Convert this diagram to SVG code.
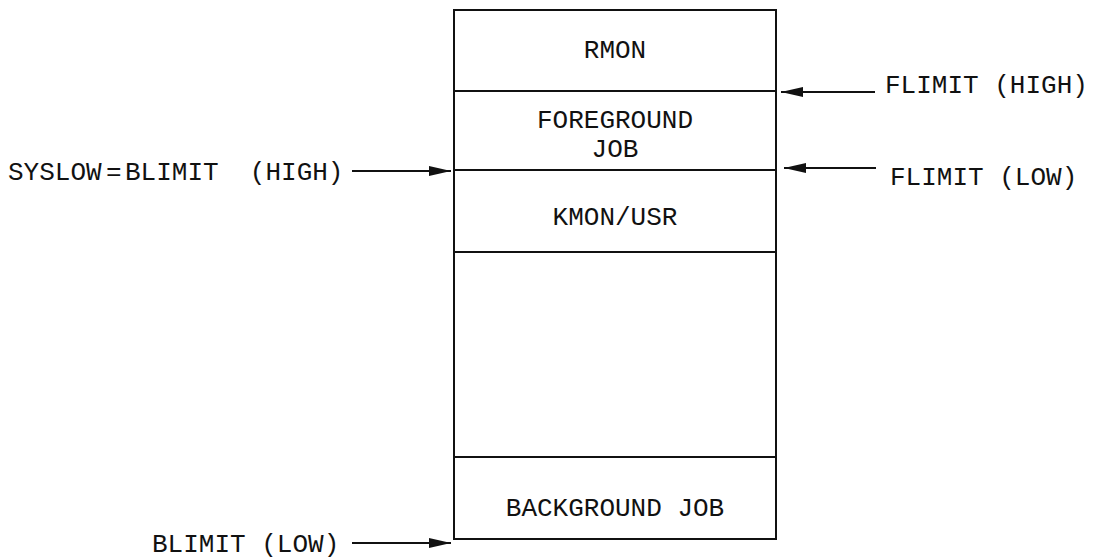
<svg xmlns="http://www.w3.org/2000/svg" width="1094" height="559" viewBox="0 0 1094 559">
<style>
text{font-family:"Liberation Mono","Courier New",monospace;font-size:26px;fill:#111}
.c{text-anchor:middle}
.ln{stroke:#111;stroke-width:2;fill:none}
.ar{stroke:#111;stroke-width:2;fill:none;marker-end:url(#ah)}
</style>
<defs>
<marker id="ah" viewBox="0 0 22 10" refX="22" refY="5" markerWidth="22" markerHeight="10" markerUnits="userSpaceOnUse" orient="auto">
<path d="M0,0 L22,5 L0,10 Z" fill="#111"/>
</marker>
</defs>
<rect width="1094" height="559" fill="#fff"/>
<g id="memory">
<rect x="454" y="10" width="322" height="529" class="ln"/>
<line x1="454" y1="91" x2="776" y2="91" class="ln"/>
<line x1="454" y1="170" x2="776" y2="170" class="ln"/>
<line x1="454" y1="252" x2="776" y2="252" class="ln"/>
<line x1="454" y1="457" x2="776" y2="457" class="ln"/>
</g>
<g id="rmon"><text x="615" y="58" class="c">RMON</text></g>
<g id="foreground"><text x="615" y="128" class="c">FOREGROUND</text><text x="615" y="157" class="c">JOB</text></g>
<g id="kmon"><text x="615" y="225" class="c">KMON/USR</text></g>
<g id="background"><text x="615" y="516" class="c">BACKGROUND JOB</text></g>
<g id="labels">
<text x="885" y="93">FLIMIT (HIGH)</text>
<text x="890" y="185">FLIMIT (LOW)</text>
<text x="8" y="180">SYSLOW</text>
<text x="106" y="180">=</text>
<text x="125" y="180" xml:space="preserve">BLIMIT  (HIGH)</text>
<text x="152" y="552">BLIMIT (LOW)</text>
</g>
<g id="connectors">
<line x1="875" y1="92" x2="781" y2="92" class="ar"/>
<line x1="876" y1="168" x2="784" y2="168" class="ar"/>
<line x1="352" y1="171" x2="451" y2="171" class="ar"/>
<line x1="352" y1="543" x2="451" y2="543" class="ar"/>
</g>
</svg>
